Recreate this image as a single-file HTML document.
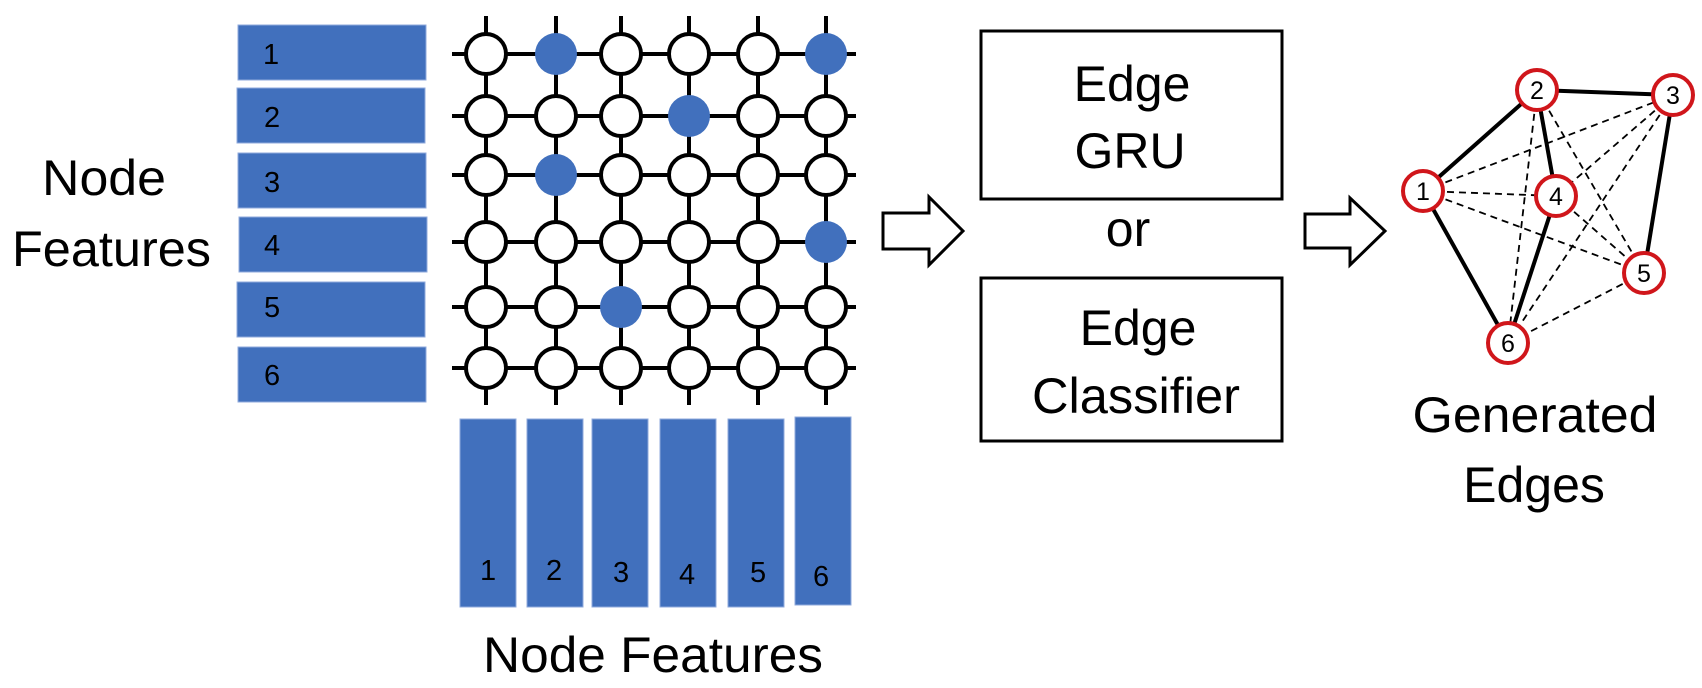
<!DOCTYPE html>
<html><head><meta charset="utf-8"><style>html,body{margin:0;padding:0;background:#fff}svg{display:block}</style></head>
<body>
<svg width="1702" height="688" viewBox="0 0 1702 688" xmlns="http://www.w3.org/2000/svg" font-family="Liberation Sans, sans-serif">
<g fill="#4170bd" stroke="#8faadc" stroke-width="1">
<rect x="238" y="25" width="188" height="55"/>
<rect x="237" y="88" width="188" height="55"/>
<rect x="238" y="153" width="188" height="55"/>
<rect x="239" y="217" width="188" height="55"/>
<rect x="237" y="282" width="188" height="55"/>
<rect x="238" y="347" width="188" height="55"/>
<rect x="460" y="419" width="56" height="188"/>
<rect x="527" y="419" width="56" height="188"/>
<rect x="592" y="419" width="56" height="188"/>
<rect x="660" y="419" width="56" height="188"/>
<rect x="728" y="419" width="56" height="188"/>
<rect x="795" y="417" width="56" height="188"/>
</g>
<g font-size="29" fill="#000">
<text x="263" y="64">1</text><text x="264" y="127">2</text><text x="264" y="192">3</text><text x="264" y="255">4</text><text x="264" y="317">5</text><text x="264" y="385">6</text>
<text x="480" y="580">1</text><text x="546" y="580">2</text><text x="613" y="582">3</text><text x="679" y="584">4</text><text x="750" y="582">5</text><text x="813" y="586">6</text>
</g>
<text font-size="50" x="42" y="195" textLength="124" lengthAdjust="spacingAndGlyphs">Node</text>
<text font-size="50" x="12" y="266" textLength="199" lengthAdjust="spacingAndGlyphs">Features</text>
<text font-size="50" x="483" y="672" textLength="340" lengthAdjust="spacingAndGlyphs">Node Features</text>
<g stroke="#000" stroke-width="4">
<line x1="452" y1="54" x2="856" y2="54"/><line x1="452" y1="116" x2="856" y2="116"/><line x1="452" y1="175" x2="856" y2="175"/><line x1="452" y1="242" x2="856" y2="242"/><line x1="452" y1="307" x2="856" y2="307"/><line x1="452" y1="368" x2="856" y2="368"/>
<line x1="486" y1="16" x2="486" y2="405"/><line x1="556" y1="16" x2="556" y2="405"/><line x1="621" y1="16" x2="621" y2="405"/><line x1="689" y1="16" x2="689" y2="405"/><line x1="758" y1="16" x2="758" y2="405"/><line x1="826" y1="16" x2="826" y2="405"/>
</g>
<g stroke="#000" stroke-width="4" fill="#fff" id="grid"></g>
<script>
(function(){var xs=[486,556,621,689,758,826],ys=[54,116,175,242,307,368];
var filled={"0,1":1,"0,5":1,"1,3":1,"2,1":1,"3,5":1,"4,2":1};
var g=document.getElementById('grid'),ns="http://www.w3.org/2000/svg";
for(var r=0;r<6;r++)for(var c=0;c<6;c++){var e=document.createElementNS(ns,'circle');e.setAttribute('cx',xs[c]);e.setAttribute('cy',ys[r]);
if(filled[r+','+c]){e.setAttribute('r',21);e.setAttribute('fill','#4170bd');e.setAttribute('stroke','none');}else{e.setAttribute('r',20);}
g.appendChild(e);}})();
</script>
<g fill="#fff" stroke="#000" stroke-width="3">
<polygon points="883,213 929,213 929,197 963,231 929,265 929,249 883,249"/>
<polygon points="1305,214 1350,214 1350,198 1385,231 1350,265 1350,248 1305,248"/>
<rect x="981" y="31" width="301" height="168" fill="none"/>
<rect x="981" y="278" width="301" height="163" fill="none"/>
</g>
<g font-size="50" text-anchor="middle">
<text x="1132" y="101">Edge</text>
<text x="1130" y="168">GRU</text>
<text x="1128" y="246">or</text>
<text x="1138" y="345">Edge</text>
<text x="1136" y="413" textLength="208" lengthAdjust="spacingAndGlyphs">Classifier</text>
<text x="1535" y="432" textLength="245" lengthAdjust="spacingAndGlyphs">Generated</text>
<text x="1534" y="502">Edges</text>
</g>
<g stroke="#000" stroke-width="1.8" stroke-dasharray="7,5">
<line x1="1423" y1="191" x2="1673" y2="95"/><line x1="1423" y1="191" x2="1556" y2="196"/><line x1="1423" y1="191" x2="1644" y2="273"/>
<line x1="1537" y1="90" x2="1508" y2="343"/><line x1="1537" y1="90" x2="1644" y2="273"/>
<line x1="1673" y1="95" x2="1556" y2="196"/><line x1="1673" y1="95" x2="1508" y2="343"/>
<line x1="1556" y1="196" x2="1644" y2="273"/><line x1="1644" y1="273" x2="1508" y2="343"/>
</g>
<g stroke="#000" stroke-width="4">
<line x1="1423" y1="191" x2="1537" y2="90"/><line x1="1537" y1="90" x2="1673" y2="95"/><line x1="1537" y1="90" x2="1556" y2="196"/>
<line x1="1673" y1="95" x2="1644" y2="273"/><line x1="1423" y1="191" x2="1508" y2="343"/><line x1="1556" y1="196" x2="1508" y2="343"/>
</g>
<g fill="#fff" stroke="#d0161b" stroke-width="4">
<circle cx="1423" cy="191" r="20"/><circle cx="1537" cy="90" r="20"/><circle cx="1673" cy="95" r="20"/><circle cx="1556" cy="196" r="20"/><circle cx="1644" cy="273" r="20"/><circle cx="1508" cy="343" r="20"/>
</g>
<g font-size="25" text-anchor="middle">
<text x="1423" y="200">1</text><text x="1537" y="99">2</text><text x="1673" y="104">3</text><text x="1556" y="205">4</text><text x="1644" y="282">5</text><text x="1508" y="352">6</text>
</g>
</svg>
</body></html>
